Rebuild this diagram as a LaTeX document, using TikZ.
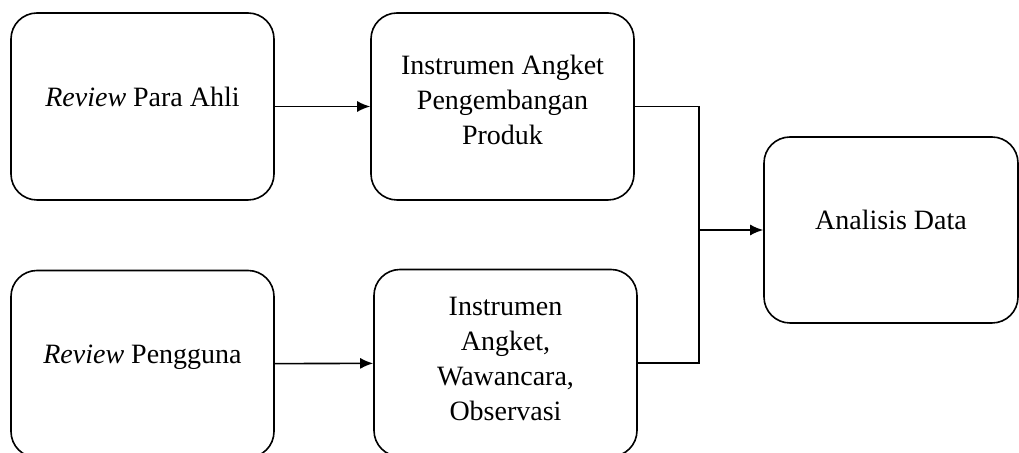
\documentclass[tikz,border=0pt]{standalone}
\usepackage{fontspec}
\setmainfont{Liberation Serif}
\usetikzlibrary{arrows.meta}

\tikzset{
    kotak/.style={draw, line width=0.8pt, rounded corners=13pt, align=center,
        minimum width=131.5pt, minimum height=93.5pt,
        font=\fontsize{14}{17.5}\selectfont},
    satubaris/.style={text height=10pt, text depth=10pt},
    panah/.style={-{Latex[length=6.5pt,width=5.5pt]}, line width=0.8pt},
    garis/.style={line width=0.8pt}
}

\begin{document}
\begin{tikzpicture}[x=0.5pt, y=-0.5pt]
        \useasboundingbox (0, 0) rectangle (1019, 453);

        % kolom kiri
        \node[kotak, satubaris] (ahli) at (142.5, 106.5) {\textit{Review} Para Ahli};
        \node[kotak, satubaris] (pengguna) at (142.5, 364) {\textit{Review} Pengguna};

        % kolom tengah
        \node[kotak, text depth=6.5pt] (angket) at (502.5, 106.5)
            {Instrumen Angket\\Pengembangan\\Produk};
        \node[kotak, text depth=4.5pt] (wawancara) at (505.5, 363)
            {Instrumen\\Angket,\\Wawancara,\\Observasi};

        % kanan
        \node[kotak, satubaris, minimum width=127pt, minimum height=93pt] (analisis) at (891, 230)
            {Analisis Data};

        \coordinate (gabung) at (699, 230);

        \draw[panah] (ahli) -- (angket);
        \draw[panah] (pengguna) -- (wawancara);
        \draw[garis] (angket.east) -- (angket.east -| gabung) -- (wawancara.east -| gabung) -- (wawancara.east);
        \draw[panah] (gabung) -- (analisis.west);
    \end{tikzpicture}
\end{document}
